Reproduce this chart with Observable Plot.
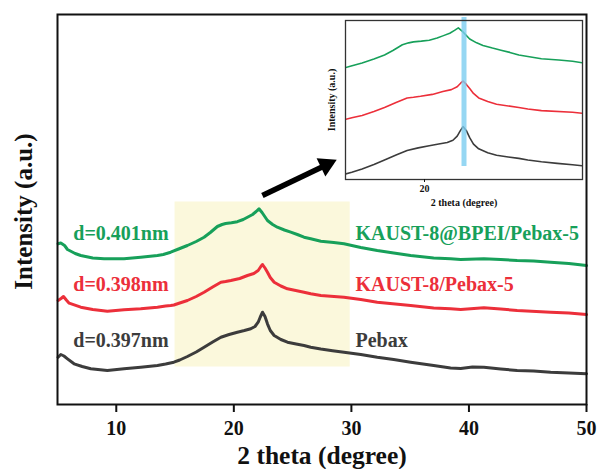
<!DOCTYPE html>
<html>
<head>
<meta charset="utf-8">
<script src="https://cdn.jsdelivr.net/npm/d3@7"></script>
<script src="https://cdn.jsdelivr.net/npm/@observablehq/plot@0.6"></script>
<style>
  body { margin: 0; background: #fff; }
  #chart { position: relative; width: 597px; height: 469px; }
  #chart svg { position: absolute; }
</style>
</head>
<body>
<div id="chart"></div>
<script>
// XRD patterns, 2θ in degrees, intensity in arbitrary units (curves stacked)
const bpeiTheta = [5.05, 5.28, 5.6, 5.85, 6.5, 6.98, 8.0, 8.96, 10.66, 12.08, 13.5, 14.0, 14.63, 15.3, 16.05, 16.8, 17.47, 18.0, 18.6, 19.0, 19.3, 19.8, 20.3, 20.8, 21.16, 21.6, 21.9, 22.14, 22.4, 22.86, 23.3, 23.7, 24.3, 24.84, 25.4, 25.97, 26.54, 27.4, 28.5, 29.37, 30.8, 32.2, 33.6, 35.04, 37.0, 38.44, 39.3, 41.27, 42.7, 44.1, 45.5, 46.95, 48.5, 50];
const bpeiIntensity = [160.7, 161.5, 159, 155, 151, 149, 146.5, 145.7, 145.7, 147.3, 149, 150, 152.3, 155.5, 159, 163, 167.3, 172, 178, 180, 181, 181.8, 182.8, 185, 187.3, 190, 193, 195.7, 192, 184, 180, 177.3, 174.5, 172.3, 170, 167.3, 165.7, 163.3, 162, 160.7, 157, 154, 151.5, 149, 146.5, 145.7, 145, 145.7, 145, 144, 143.5, 142.3, 141, 139];

const kaustTheta = [5.05, 5.3, 5.51, 5.75, 5.99, 6.98, 8.0, 9.24, 10.66, 12.08, 13.5, 14.2, 14.63, 14.9, 15.4, 16.05, 16.8, 17.47, 18.2, 18.9, 19.3, 19.75, 20.5, 21.16, 21.7, 22.07, 22.3, 22.44, 22.65, 22.86, 23.1, 23.43, 24.0, 24.56, 25.97, 26.54, 27.4, 29.37, 30.8, 32.2, 35.04, 37.0, 38.44, 39.3, 41.27, 42.7, 44.1, 46.95, 48.5, 50];
const kaustIntensity = [104, 106, 108, 104.5, 101.3, 97.3, 95, 93.3, 94.7, 95.7, 97.3, 98.5, 99, 99.5, 101.5, 104, 108, 112.3, 117.5, 122.3, 123, 124, 126, 129, 131, 134, 138, 140, 136.5, 132.3, 127, 122.3, 118.5, 115.7, 112.3, 110.7, 109, 107.3, 105, 102.3, 99, 96.5, 95.7, 95, 96.7, 95.5, 94, 92.3, 91.5, 90];

const pebaxTheta = [5.05, 5.28, 5.55, 5.85, 6.41, 7.1, 7.83, 9.24, 10.66, 12.08, 13.5, 14.2, 14.9, 15.4, 16.05, 16.8, 17.47, 18.2, 18.9, 19.6, 20.3, 20.9, 21.44, 21.8, 22.07, 22.25, 22.44, 22.65, 22.86, 23.1, 23.43, 24.0, 24.56, 25.3, 25.97, 26.54, 27.4, 28.4, 29.37, 30.8, 32.2, 33.6, 35.04, 37.0, 38.44, 39.3, 40.3, 41.27, 42.7, 44.1, 45.5, 46.95, 48.5, 50];
const pebaxIntensity = [47.3, 50, 48.5, 45.7, 40.7, 38, 35.7, 34, 35.7, 37.3, 39, 40.5, 42.3, 44.5, 48, 52.5, 57.3, 62.5, 67.3, 70, 72.3, 74, 75.7, 78, 82.3, 87.5, 92.3, 88, 80.7, 74, 69, 65, 62.3, 60.5, 59, 57.3, 55.5, 53.8, 52.3, 50, 47.3, 45, 42.3, 39, 36.5, 36, 37.5, 37.3, 35.5, 34, 33.5, 32.3, 31.5, 30.7];

const sampleNames = ["KAUST-8@BPEI/Pebax-5", "KAUST-8/Pebax-5", "Pebax"];
const dSpacings = ["d=0.401nm", "d=0.398nm", "d=0.397nm"];
const xTicks = [10, 20, 30, 40, 50];
const insetTicks = [20];
const highlightRange = [15, 29.9];   // 2θ window shown enlarged in the inset
const peakTheta = [22.5];            // main Pebax reflection

// styles
const palette = ["#17a05a", "#ec2f3a", "#3c3c3c"];
const serif = "'Liberation Serif', 'Times New Roman', serif";

// tidy table for the line marks
const patterns = [
  {name: sampleNames[0], theta: bpeiTheta, intensity: bpeiIntensity},
  {name: sampleNames[1], theta: kaustTheta, intensity: kaustIntensity},
  {name: sampleNames[2], theta: pebaxTheta, intensity: pebaxIntensity}
];
const rows = patterns.flatMap(p => p.theta.map((t, i) => ({sample: p.name, theta: t, intensity: p.intensity[i]})));

// label levels (a.u.) for each pattern's annotations
const labelLevel = [165, 114, 58];

const color = {domain: sampleNames, range: palette};

const main = Plot.plot({
  width: 597,
  height: 469,
  marginLeft: 57,
  marginRight: 11,
  marginTop: 14,
  marginBottom: 65,
  style: {fontFamily: serif, background: "transparent", overflow: "visible", color: "#111"},
  x: {domain: [5, 50]},
  y: {domain: [0, 390], axis: null},
  color,
  marks: [
    Plot.rect([highlightRange], {x1: d => d[0], x2: d => d[1], y1: 37.5, y2: 202.5, fill: "#fbf8dc"}),
    Plot.line(rows, {x: "theta", y: "intensity", z: "sample", stroke: "sample", strokeWidth: 3, strokeLinejoin: "round"}),
    Plot.text(dSpacings, {x: 6.34, y: (d, i) => labelLevel[i], text: d => d, fill: (d, i) => sampleNames[i],
      textAnchor: "start", lineAnchor: "bottom", fontSize: 20, fontWeight: "bold"}),
    Plot.text(sampleNames, {x: 30.35, y: (d, i) => labelLevel[i], text: d => d, fill: d => d,
      textAnchor: "start", lineAnchor: "bottom", fontSize: 20, fontWeight: "bold"}),
    // arrow pointing to the inset
    Plot.link([{x1: 22.43, y1: 209, x2: 27.86, y2: 239.6}], {x1: "x1", y1: "y1", x2: "x2", y2: "y2", stroke: "#000", strokeWidth: 5.5}),
    Plot.dot([{x: 27.86, y: 239.6}], {x: "x", y: "y", symbol: "triangle", r: 7.5, rotate: 64.3, fill: "#000", stroke: "none"}),
    Plot.frame({stroke: "#111", strokeWidth: 2}),
    Plot.axisX({ticks: xTicks, tickSize: 8, tickPadding: 8.5, strokeWidth: 2, fontSize: 20, fontWeight: "bold", label: null}),
    Plot.text(["2 theta (degree)"], {frameAnchor: "bottom", lineAnchor: "bottom", dy: 59.5, fontSize: 25.5, fontWeight: "bold"}),
    Plot.text(["Intensity (a.u.)"], {frameAnchor: "left", textAnchor: "middle", rotate: -90, dx: -34, dy: 2, fontSize: 25, fontWeight: "bold"})
  ]
});
main.style.left = "0px";
main.style.top = "0px";

// inset: enlarged view of the 15–30° window
const inset = Plot.plot({
  width: 280,
  height: 205,
  marginLeft: 30,
  marginRight: 13,
  marginTop: 10,
  marginBottom: 36,
  style: {fontFamily: serif, background: "transparent", overflow: "visible", color: "#111"},
  x: {domain: [15, 30]},
  y: {domain: [36.9, 203.4], axis: null},
  color,
  marks: [
    Plot.line(rows, {x: "theta", y: "intensity", z: "sample", stroke: "sample", strokeWidth: 1.6, clip: true}),
    Plot.ruleX(peakTheta, {y1: 50.5, y2: 206.5, stroke: "#7ccdf0", strokeWidth: 5, strokeOpacity: 0.8}),
    Plot.frame({stroke: "#333", strokeWidth: 1.3}),
    Plot.axisX({ticks: insetTicks, tickSize: 3, tickPadding: 2.5, strokeWidth: 1, fontSize: 10, fontWeight: "bold", label: null}),
    Plot.text(["2 theta (degree)"], {frameAnchor: "bottom", lineAnchor: "bottom", dy: 26, fontSize: 10, fontWeight: "bold"}),
    Plot.text(["Intensity (a.u.)"], {frameAnchor: "left", textAnchor: "middle", rotate: -90, dx: -14, fontSize: 10, fontWeight: "bold"})
  ]
});
inset.style.left = "315px";
inset.style.top = "10px";

const chart = document.getElementById("chart");
chart.append(main, inset);
</script>
</body>
</html>
